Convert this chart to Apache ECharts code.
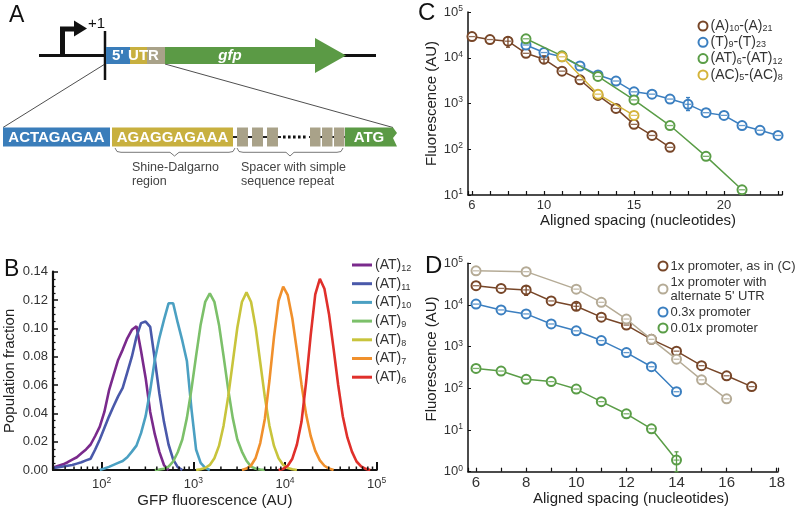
<!DOCTYPE html>
<html><head><meta charset="utf-8">
<script src="https://cdn.jsdelivr.net/npm/echarts@6/dist/echarts.min.js"></script>
<style>html,body{margin:0;padding:0;background:#fff}#c{width:796px;height:511px}</style>
</head><body><div id="c"></div>
<script>
// ---------- Panel B: histogram curves (log10 bin start, step) ----------
const binStep = 0.05;
const at12Start = 1.48;
const at12 = [0.002,0.003,0.004,0.0055,0.0073,0.009,0.0118,0.0145,0.018,0.024,0.0306,0.041,0.056,0.067,0.0777,0.085,0.093,0.099,0.1015,0.084,0.065,0.041,0.0253,0.0128,0.0035,0];
const at11Start = 1.48;
const at11 = [0.0015,0.002,0.0025,0.003,0.0035,0.0045,0.0055,0.0068,0.008,0.0145,0.0215,0.0296,0.0377,0.045,0.052,0.058,0.069,0.080,0.094,0.1037,0.1048,0.101,0.078,0.054,0.034,0.018,0.0075,0.002,0];
const at10Start = 1.98;
const at10 = [0,0.001,0.0022,0.0036,0.005,0.0064,0.009,0.013,0.0172,0.026,0.038,0.0563,0.0777,0.0933,0.106,0.1177,0.1177,0.104,0.0913,0.077,0.043,0.0145,0.005,0.0015,0];
const at9Start = 2.58;
const at9 = [0,0.0003,0.0009,0.0024,0.006,0.0125,0.0215,0.0368,0.0571,0.0804,0.1026,0.1187,0.1247,0.1187,0.1026,0.0804,0.0571,0.0368,0.0215,0.013,0.0065,0.0024,0.0009,0.0003,0];
const at8Start = 3.03;
const at8 = [0,0.0005,0.0014,0.0036,0.0083,0.017,0.0313,0.0516,0.076,0.1004,0.1186,0.1254,0.1186,0.1004,0.076,0.0516,0.0313,0.017,0.0083,0.0036,0.0014,0.0005,0];
const at7Start = 3.53;
const at7 = [0,0.001,0.0032,0.0085,0.019,0.036,0.063,0.094,0.1195,0.1294,0.1234,0.107,0.0843,0.0604,0.0393,0.024,0.0135,0.0068,0.003,0.001,0];
const at6Start = 3.93;
const at6 = [0,0.0008,0.003,0.008,0.018,0.034,0.062,0.095,0.124,0.135,0.128,0.110,0.0855,0.060,0.038,0.023,0.013,0.006,0.0025,0.0008,0];
const bNames = ['(AT)12','(AT)11','(AT)10','(AT)9','(AT)8','(AT)7','(AT)6'];
const bColors = ['#7a2a8c','#4a59aa','#4ba0c2','#7cc06a','#c8c43c','#f0902c','#e0302b'];
const bMinorTicks = [30,40,50,60,70,80,90,200,300,400,500,600,700,800,900,2000,3000,4000,5000,6000,7000,8000,9000,20000,30000,40000,50000,60000,70000,80000,90000];

// ---------- Panel C ----------
const cAx = [6,7,8,9,10,11,12,13,14,15,16,17];
const cAy = [29000,25000,23000,12500,9300,5100,3300,1500,780,350,200,110];
const cTx = [9,10,11,12,13,14,15,16,17,18,19,20,21,22,23];
const cTy = [19000,13000,10500,6600,4200,3100,1800,1600,1250,960,630,550,330,260,200];
const cATx = [9,11,13,15,17,19,21];
const cATy = [26000,11000,3900,1200,330,70,13];
const cACx = [11,13,15];
const cACy = [10500,1600,550];
const cErrA = [[8,17000,28500],[10,7500,11000]];
const cErrT = [[18,700,1350]];

// ---------- Panel D ----------
const dTanx = [6,8,10,11,12,13,14,15,16];
const dTany = [66000,63000,24000,11600,4600,1500,500,160,56];
const dBluex = [6,7,8,9,10,11,12,13,14];
const dBluey = [10500,7600,6100,3500,2400,1400,720,330,83];
const dGreenx = [6,7,8,9,10,11,12,13,14];
const dGreeny = [300,260,165,145,96,48,24.5,10.7,1.9];
const dErrGreen = [[14,1.0,3.0]];

const FONT = '"Liberation Sans", Arial, sans-serif';
const FF = 'Liberation Sans';
const TXT = '#333';
const C_BROWN = '#774628', C_BLUE = '#3b7fc0', C_GREEN = '#5a9d47', C_YEL = '#d4b43a', C_TAN = '#b5ab96';

function zip(xs, ys){ return xs.map((x,i)=>[x, ys[i]]); }
function histData(start, vals){ return vals.map((v,i)=>[Math.pow(10, start + i*binStep), v]); }
function pow10Label(v){
  const l = Math.log10(v), e = Math.round(l);
  if (Math.abs(l - e) > 1e-6) return '';
  return '10{sup|' + e + '}';
}
const supRich = { sup: { fontSize: 8.5, fontFamily: FF, color: TXT, verticalAlign: 'top', lineHeight: 7 } };
const subRich = { s: { fontSize: 9, fontFamily: FF, color: TXT, verticalAlign: 'bottom', lineHeight: 8 } };
function legendFmt(n){ return n.replace(/\)(\d+)/g, '){s|$1}'); }

function axisCommon(extra){
  return Object.assign({
    axisLine: { show: true, onZero: false, lineStyle: { color: '#111', width: 1.5 } },
    axisTick: { show: true, inside: true, length: 4, lineStyle: { color: '#111', width: 1.2 } },
    splitLine: { show: false },
    axisLabel: { color: TXT, fontFamily: FF, fontSize: 13 },
    nameTextStyle: { color: '#222', fontFamily: FF, fontSize: 15 }
  }, extra);
}

const series = [];
const bStarts = [at12Start, at11Start, at10Start, at9Start, at8Start, at7Start, at6Start];
const bVals = [at12, at11, at10, at9, at8, at7, at6];
bNames.forEach((n, i) => {
  series.push({ name: n, type: 'line', xAxisIndex: 0, yAxisIndex: 0, data: histData(bStarts[i], bVals[i]),
    showSymbol: false, symbol: 'none', color: bColors[i], lineStyle: { width: 2.6, color: bColors[i] }, z: 3 });
});
series.push({ type: 'custom', xAxisIndex: 0, yAxisIndex: 0, silent: true, z: 5,
  data: bMinorTicks.map(v => [v, 0]),
  renderItem: (p, api) => { const c = api.coord([api.value(0), 0]);
    return { type: 'line', shape: { x1: c[0], y1: c[1], x2: c[0], y2: c[1] - 3.5 }, style: { stroke: '#111', lineWidth: 1.5 } }; } });

function pointSeries(name, xs, ys, color, xi, z){
  series.push({ name: name, type: 'line', xAxisIndex: xi, yAxisIndex: xi, data: zip(xs, ys), color: color,
    symbol: 'emptyCircle', symbolSize: 9, lineStyle: { width: 1.5, color: color },
    itemStyle: { color: color, borderColor: color, borderWidth: 1.5 }, z: z });
  series.push({ type: 'scatter', xAxisIndex: xi, yAxisIndex: xi, data: zip(xs, ys), silent: true,
    symbol: 'rect', symbolSize: [6, 1.3], itemStyle: { color: color }, z: z + 0.5 });
}
function errSeries(rows, color, xi){
  series.push({ type: 'custom', xAxisIndex: xi, yAxisIndex: xi, silent: true, z: 20, data: rows,
    renderItem: (p, api) => {
      const lo = api.coord([api.value(0), api.value(1)]), hi = api.coord([api.value(0), api.value(2)]);
      return { type: 'group', children: [
        { type: 'line', shape: { x1: lo[0], y1: lo[1], x2: hi[0], y2: hi[1] }, style: { stroke: color, lineWidth: 1.3 } },
        { type: 'line', shape: { x1: lo[0]-2, y1: lo[1], x2: lo[0]+2, y2: lo[1] }, style: { stroke: color, lineWidth: 1.3 } },
        { type: 'line', shape: { x1: hi[0]-2, y1: hi[1], x2: hi[0]+2, y2: hi[1] }, style: { stroke: color, lineWidth: 1.3 } }
      ] };
    } });
}
const cN = ['(A)10-(A)21', '(T)9-(T)23', '(AT)6-(AT)12', '(AC)5-(AC)8'];
pointSeries(cN[0], cAx, cAy, C_BROWN, 1, 4);
pointSeries(cN[1], cTx, cTy, C_BLUE, 1, 5);
pointSeries(cN[2], cATx, cATy, C_GREEN, 1, 6);
pointSeries(cN[3], cACx, cACy, C_YEL, 1, 7);
errSeries(cErrA, C_BROWN, 1);
errSeries(cErrT, C_BLUE, 1);

const dN = ['1x promoter, as in (C)', "1x promoter with\nalternate 5' UTR", '0.3x promoter', '0.01x promoter'];
pointSeries(dN[0], cAx, cAy, C_BROWN, 2, 4);
pointSeries(dN[1], dTanx, dTany, C_TAN, 2, 5);
pointSeries(dN[2], dBluex, dBluey, C_BLUE, 2, 6);
pointSeries(dN[3], dGreenx, dGreeny, C_GREEN, 2, 7);
errSeries(cErrA, C_BROWN, 2);
errSeries(dErrGreen, C_GREEN, 2);

// ---------- Panel A diagram ----------
const bold15 = 'bold 15px ' + FONT;
function T(text, x, y, font, fill, align){
  return { type: 'text', z: 30, style: { text: text, x: x, y: y, font: font, fill: fill,
    textAlign: align || 'left', align: align || 'left', textVerticalAlign: 'middle', verticalAlign: 'middle' } };
}
function R(x, y, w, h, fill){ return { type: 'rect', z: 20, shape: { x: x, y: y, width: w, height: h }, style: { fill: fill } }; }
function L(x1, y1, x2, y2, stroke, w, dash){ return { type: 'line', z: 19, shape: { x1: x1, y1: y1, x2: x2, y2: y2 }, style: { stroke: stroke, lineWidth: w, lineDash: dash || null } }; }
const A_BLUE = '#3a7dba', A_YEL = '#c8b03f', A_GRAY = '#a9a289', A_GREEN = '#5b9a45';
const graphics = [
  T('A', 9, 16, '23px ' + FONT, '#111'),
  T('B', 4, 270, '23px ' + FONT, '#111'),
  T('C', 418, 13, '24px ' + FONT, '#111'),
  T('D', 425, 266, '24px ' + FONT, '#111'),
  L(39, 55.5, 376, 55.5, '#111', 3.2),
  { type: 'polyline', z: 19, shape: { points: [[62.5, 56], [62.5, 29], [76, 29]] }, style: { stroke: '#111', lineWidth: 5, fill: null } },
  { type: 'polygon', z: 19, shape: { points: [[74, 20.5], [87, 28.5], [74, 36.5]] }, style: { fill: '#111' } },
  T('+1', 88, 24, '15px ' + FONT, '#111'),
  L(105, 64, 3, 127.5, '#222', 0.8),
  L(165, 64, 393, 127.5, '#222', 0.8),
  L(105, 31, 105, 80, '#111', 2.5),
  R(106, 47, 24, 17, A_BLUE),
  R(130, 47, 17, 17, A_YEL),
  R(147, 47, 18, 17, A_GRAY),
  { type: 'polygon', z: 20, shape: { points: [[165, 47], [315, 47], [315, 38], [346, 55.5], [315, 73], [315, 64], [165, 64]] }, style: { fill: A_GREEN } },
  T("5' UTR", 112, 56, bold15, '#fff'),
  T('gfp', 230, 55.5, 'italic bold 15px ' + FONT, '#fff', 'center'),
  R(3, 127.5, 107, 19, A_BLUE),
  T('ACTAGAGAA', 56.5, 137.5, bold15, '#fff', 'center'),
  R(112, 127.5, 121, 19, A_YEL),
  T('AGAGGAGAAA', 172.5, 137.5, bold15, '#fff', 'center'),
  L(233, 137, 281, 137, '#222', 2),
  L(283, 137, 308, 137, '#111', 3, [2.6, 2.4]),
  L(309, 137, 345, 137, '#222', 2),
  R(237, 127.5, 11, 19, A_GRAY), R(252, 127.5, 11, 19, A_GRAY), R(267, 127.5, 11, 19, A_GRAY),
  R(310, 127.5, 10.5, 19, A_GRAY), R(322, 127.5, 10.5, 19, A_GRAY), R(334, 127.5, 10.5, 19, A_GRAY),
  { type: 'polygon', z: 20, shape: { points: [[345, 127.5], [393, 127.5], [397, 133], [393, 138], [397, 146.5], [345, 146.5]] }, style: { fill: A_GREEN } },
  T('ATG', 369, 137.5, bold15, '#fff', 'center'),
  { type: 'polyline', z: 19, shape: { points: [[115, 148], [117, 151.5], [121, 152.3], [170, 152.3], [174.5, 156], [179, 152.3], [229, 152.3], [233, 151.5], [235, 148]] }, style: { stroke: '#555', lineWidth: 0.8, fill: null } },
  { type: 'polyline', z: 19, shape: { points: [[237, 148], [239, 151.5], [243, 152.3], [286, 152.3], [290, 156], [294, 152.3], [337, 152.3], [341, 151.5], [343, 148]] }, style: { stroke: '#555', lineWidth: 0.8, fill: null } },
  T('Shine-Dalgarno', 132, 167.5, '12.5px ' + FONT, '#444'),
  T('region', 132, 182, '12.5px ' + FONT, '#444'),
  T('Spacer with simple', 241, 167.5, '12.5px ' + FONT, '#444'),
  T('sequence repeat', 241, 182, '12.5px ' + FONT, '#444')
];

const option = {
  animation: false,
  backgroundColor: '#fff',
  textStyle: { fontFamily: FF },
  grid: [
    { left: 53, top: 271.7, width: 323.7, height: 198.3 },
    { left: 468, top: 12, width: 314, height: 183 },
    { left: 468, top: 263.3, width: 310, height: 208.4 }
  ],
  xAxis: [
    axisCommon({ gridIndex: 0, type: 'log', logBase: 10, min: 29.5, max: 100000,
      axisLine: { show: true, onZero: false, lineStyle: { color: '#111', width: 2.2 } },
      axisTick: { show: true, inside: true, length: 8, lineStyle: { color: '#111', width: 2 } },
      axisLabel: { color: TXT, fontFamily: FF, fontSize: 13, lineHeight: 16, margin: 6, formatter: pow10Label, rich: supRich },
      name: 'GFP fluorescence (AU)', nameLocation: 'middle', nameGap: 19 }),
    axisCommon({ gridIndex: 1, type: 'value', min: 5.78, max: 23.22, minInterval: 1, maxInterval: 1,
      axisLabel: { color: TXT, fontFamily: FF, fontSize: 13, margin: 4, formatter: v => ([6, 10, 15, 20].indexOf(v) >= 0 ? String(v) : '') },
      name: 'Aligned spacing (nucleotides)', nameLocation: 'middle', nameGap: 17,
      nameTextStyle: { color: '#222', fontFamily: FF, fontSize: 15, padding: [0, 0, 0, 26] } }),
    axisCommon({ gridIndex: 2, type: 'value', min: 5.68, max: 18.05, minInterval: 1, maxInterval: 1,
      axisLabel: { color: TXT, fontFamily: FF, fontSize: 15, margin: 4, formatter: v => (Number.isInteger(v) && v % 2 === 0 ? String(v) : '') },
      name: 'Aligned spacing (nucleotides)', nameLocation: 'middle', nameGap: 19,
      nameTextStyle: { color: '#222', fontFamily: FF, fontSize: 15, padding: [0, 0, 0, 16] } })
  ],
  yAxis: [
    axisCommon({ gridIndex: 0, type: 'value', min: 0, max: 0.14, interval: 0.02,
      axisLine: { show: true, onZero: false, lineStyle: { color: '#111', width: 2.2 } },
      axisTick: { show: true, inside: true, length: 5, lineStyle: { color: '#111', width: 1.5 } },
      minorTick: { show: true, splitNumber: 4, length: 2.5, lineStyle: { color: '#111', width: 1.2 } },
      axisLabel: { color: TXT, fontFamily: FF, fontSize: 13, margin: 5, formatter: v => v.toFixed(2) },
      name: 'Population fraction', nameLocation: 'middle', nameGap: 36 }),
    axisCommon({ gridIndex: 1, type: 'log', logBase: 10, min: 10, max: 100000,
      axisTick: { show: true, inside: true, length: 3, lineStyle: { color: '#111', width: 1 } },
      axisLabel: { color: TXT, fontFamily: FF, fontSize: 13, lineHeight: 16, margin: 5, formatter: pow10Label, rich: supRich },
      name: 'Fluorescence (AU)', nameLocation: 'middle', nameGap: 29 }),
    axisCommon({ gridIndex: 2, type: 'log', logBase: 10, min: 1, max: 100000,
      axisTick: { show: true, inside: true, length: 3, lineStyle: { color: '#111', width: 1 } },
      axisLabel: { color: TXT, fontFamily: FF, fontSize: 13, lineHeight: 16, margin: 5, formatter: pow10Label, rich: supRich },
      name: 'Fluorescence (AU)', nameLocation: 'middle', nameGap: 29,
      nameTextStyle: { color: '#222', fontFamily: FF, fontSize: 15, padding: [0, 0, 0, 17] } })
  ],
  legend: [
    { data: bNames, orient: 'vertical', left: 347, top: 252, itemWidth: 20, itemHeight: 3, itemGap: 2.7, icon: 'rect',
      selectedMode: false, formatter: legendFmt,
      textStyle: { color: TXT, fontFamily: FF, fontSize: 14, lineHeight: 16, padding: [0, 0, 0, -2], rich: subRich } },
    { data: cN, orient: 'vertical', left: 692.5, top: 14, itemWidth: 9, itemHeight: 9, itemGap: 2.3, icon: 'emptyCircle',
      selectedMode: false, formatter: legendFmt, itemStyle: { borderWidth: 1.5 },
      textStyle: { color: TXT, fontFamily: FF, fontSize: 14, lineHeight: 14, padding: [0, 0, 0, -2], rich: subRich } },
    { data: dN, orient: 'vertical', left: 652.5, top: 254, itemWidth: 9, itemHeight: 9, itemGap: 2, icon: 'emptyCircle',
      selectedMode: false, itemStyle: { borderWidth: 1.5 },
      textStyle: { color: TXT, fontFamily: FF, fontSize: 13, lineHeight: 14, padding: [0, 0, 0, -2] } }
  ],
  graphic: { elements: graphics },
  series: series
};
const chart = echarts.init(document.getElementById('c'), null, { renderer: 'canvas' });
chart.setOption(option);
</script>
</body></html>
